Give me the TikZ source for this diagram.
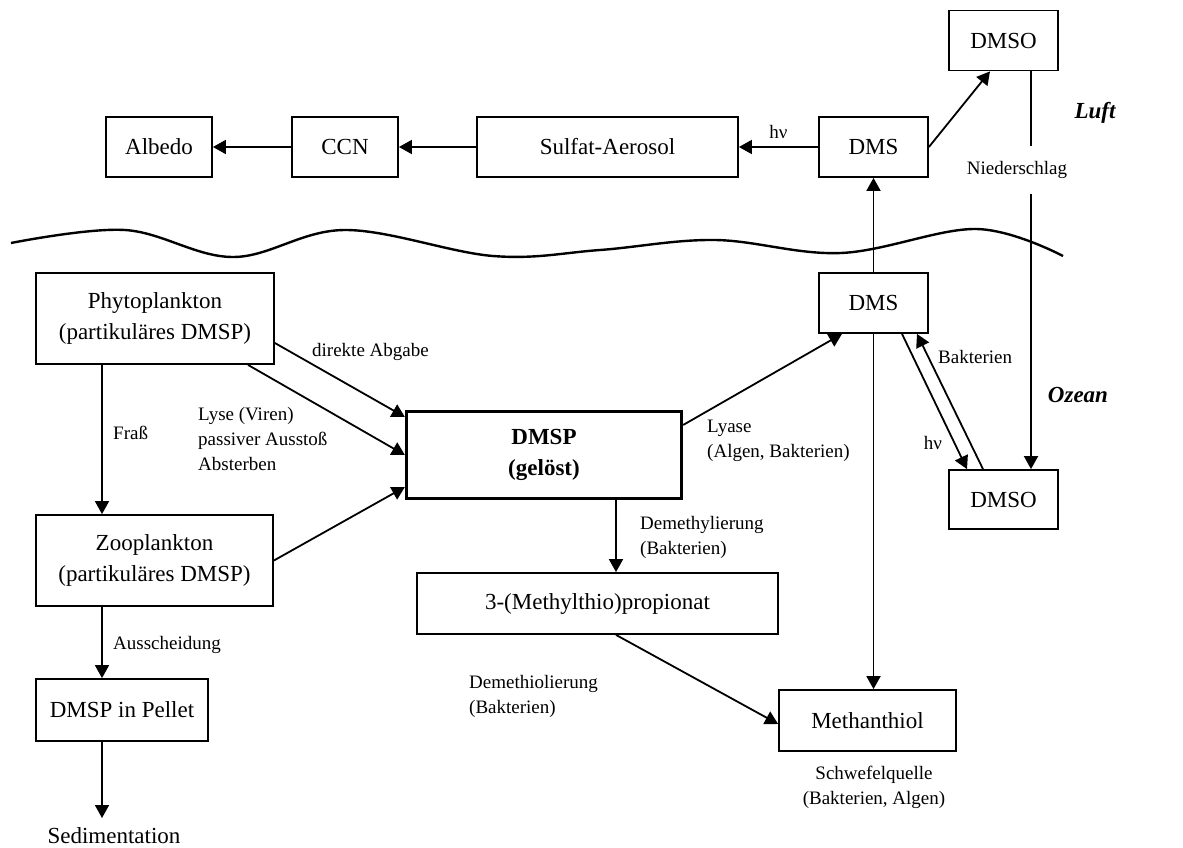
\documentclass[tikz,border=0pt]{standalone}
\usepackage{fontspec}
\setmainfont{Liberation Serif}
\usetikzlibrary{arrows.meta,calc}
\begin{document}
\begin{tikzpicture}[x=1pt,y=-1pt,
  box/.style={draw, line width=1.8pt, inner sep=0pt, align=center, font=\fontsize{23}{31}\selectfont},
  lbl/.style={inner sep=0pt, align=left, font=\fontsize{19}{25}\selectfont},
  big/.style={inner sep=0pt, font=\fontsize{23}{31}\selectfont},
  region/.style={inner sep=0pt, font=\fontsize{23}{31}\selectfont\bfseries\itshape},
  arr/.style={line width=1.8pt, -{Triangle[length=13pt,width=14pt]}},
  ln/.style={line width=1.8pt}]
\useasboundingbox (0,0) rectangle (1183,848);

% air
\node[box, minimum width=106pt, minimum height=60pt] (albedo) at (159,147) {Albedo};
\node[box, minimum width=106pt, minimum height=60pt] (ccn) at (345,147) {CCN};
\node[box, minimum width=261pt, minimum height=60pt] (sulfat) at (607.5,147) {Sulfat-Aerosol};
\node[box, minimum width=109pt, minimum height=60pt] (dmsA) at (873.5,147) {DMS};
\node[box, minimum width=109pt, minimum height=60pt] (dmsoA) at (1003.5,40.5) {DMSO};
\node[region] (luft) at (1095,113) {Luft};

% ocean
\node[box, minimum width=238pt, minimum height=91pt] (phyto) at (155,318.5) {Phytoplankton\\(partikuläres DMSP)};
\node[box, minimum width=237pt, minimum height=91pt] (zoo) at (154.5,560.5) {Zooplankton\\(partikuläres DMSP)};
\node[box, minimum width=172pt, minimum height=62pt] (pellet) at (122,710) {DMSP in Pellet};
\node[big] (sed) at (114,836) {Sedimentation};
\node[box, line width=3.2pt, font=\fontsize{23}{31}\selectfont\bfseries, minimum width=275pt, minimum height=87pt] (dmsp) at (544,455) {DMSP\\(gelöst)};
\node[box, minimum width=109pt, minimum height=60pt] (dmsO) at (873.5,303) {DMS};
\node[box, minimum width=109pt, minimum height=59pt] (dmsoO) at (1003.5,499.5) {DMSO};
\node[box, minimum width=361pt, minimum height=61pt] (mtp) at (597.5,603.5) {3-(Methylthio)propionat};
\node[box, minimum width=177pt, minimum height=61pt] (meth) at (867.5,720.5) {Methanthiol};
\node[region] (ozean) at (1078,395) {Ozean};

% sea surface
\draw[line width=2.4pt] plot[smooth, tension=0.6] coordinates {(11,243) (125,230) (233,257) (345,230) (493,256) (600,250) (715,240) (841,253) (976,229) (1063,256)};

% air connectors
\draw[arr] (dmsA.west) -- node[lbl, above=7pt] {hν} (sulfat.east);
\draw[arr] (sulfat.west) -- (ccn.east);
\draw[arr] (ccn.west) -- (albedo.east);
\draw[arr] (dmsA.east) -- ([xshift=-13.5pt]dmsoA.south);
\draw[arr] (dmsO.north) -- (dmsA.south);
\draw[arr] ([xshift=27.5pt]dmsoA.south) -- ([xshift=27.5pt]dmsoO.north);
\node[lbl, fill=white, minimum height=47pt] (nieder) at (1017,170) {Niederschlag};

% ocean connectors
\draw[arr] ([yshift=-24.5pt]phyto.east) -- ([yshift=38pt]dmsp.west);
\draw[arr] ([xshift=93pt]phyto.south) -- (dmsp.west);
\draw[arr] (zoo.east) -- ([yshift=-32pt]dmsp.west);
\draw[arr] ([xshift=-53pt]phyto.south) -- ([xshift=-53pt]phyto.south |- zoo.north);
\draw[arr] ([xshift=-52.5pt]zoo.south) -- ([xshift=-52.5pt]zoo.south |- pellet.north);
\coordinate (sedtip) at (102,818);
\draw[arr] (pellet.south -| sedtip) -- (sedtip);
\draw[arr] ([yshift=30pt]dmsp.east) -- ([xshift=-31.5pt]dmsO.south);
\draw[arr] ([xshift=72pt]dmsp.south) -- ([xshift=72pt]dmsp.south |- mtp.north);
\draw[arr] ([xshift=18.5pt]mtp.south) -- ([yshift=-3.5pt]meth.west);
\draw[arr] (dmsO.south) -- (dmsO.south |- meth.north);
\draw[arr] ([xshift=28.5pt]dmsO.south) -- ([xshift=-36.5pt]dmsoO.north);
\draw[arr] ([xshift=-20.5pt]dmsoO.north) -- ([xshift=43.5pt]dmsO.south);

% labels
\node[lbl, anchor=west] at (312,352) {direkte Abgabe};
\node[lbl, anchor=west] at (198,439) {Lyse (Viren)\\passiver Ausstoß\\Absterben};
\node[lbl, anchor=west] at (113,433) {Fraß};
\node[lbl, anchor=west] at (113,645) {Ausscheidung};
\node[lbl, anchor=west] at (707,441) {Lyase\\(Algen, Bakterien)};
\node[lbl, anchor=west] at (640,537) {Demethylierung\\(Bakterien)};
\node[lbl, anchor=west] at (469,696) {Demethiolierung\\(Bakterien)};
\node[lbl, anchor=west] at (938,357) {Bakterien};
\node[lbl] at (933,443) {hν};
\node[lbl, align=center] at (874,787) {Schwefelquelle\\(Bakterien, Algen)};
\end{tikzpicture}
\end{document}
